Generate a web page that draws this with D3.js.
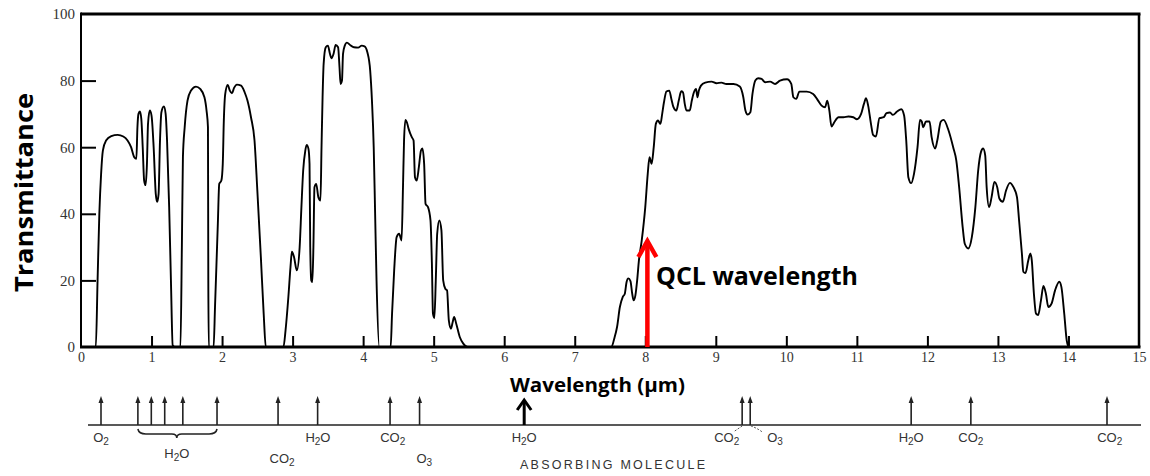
<!DOCTYPE html>
<html><head><meta charset="utf-8">
<script src="https://cdn.jsdelivr.net/npm/d3@7"></script>
<style>body{margin:0;background:#fff} svg{display:block}</style>
</head><body><svg id="c" width="1150" height="476"></svg>
<script>
// ---------- DATA ----------
const wavelength = [
0.2,0.21,0.235,0.26,0.285,0.31,0.355,0.43,0.52,0.6,0.66,0.71,0.755,0.785,0.8,0.815,0.835,0.855,0.875,0.895,0.915,0.935,0.95,0.975,1.0,1.03,1.06,1.08,1.1,1.12,1.14,1.175,1.2,1.22,1.25,1.275,1.3,1.33,
1.41,1.43,1.445,1.47,1.51,1.56,1.63,1.69,1.75,1.78,1.8,1.805,1.812,
1.88,1.9,1.94,1.96,1.99,2.01,2.025,2.045,2.08,2.11,2.14,2.17,2.21,2.27,2.32,2.36,2.41,2.46,2.5,2.55,2.59,2.62,
2.87,2.9,2.94,2.97,2.99,3.02,3.06,3.1,3.125,3.15,3.18,3.2,3.225,3.24,3.25,3.265,3.28,3.295,3.31,3.335,3.365,3.395,3.41,3.425,3.44,3.47,3.5,3.53,3.55,3.58,3.61,3.645,3.665,3.68,3.7,3.715,3.74,3.77,3.82,3.87,3.93,3.98,4.02,4.06,4.1,4.125,4.15,4.17,4.19,4.23,
4.39,4.41,4.44,4.475,4.51,4.545,4.565,4.58,4.6,4.62,4.645,4.69,4.715,4.735,4.76,4.79,4.82,4.84,4.865,4.885,4.92,4.955,4.975,4.99,5.01,5.03,5.05,5.08,5.11,5.135,5.165,5.19,5.215,5.245,5.27,5.29,5.32,5.37,5.42,5.48,
7.52,7.56,7.6,7.64,7.68,7.71,7.735,7.76,7.79,7.815,7.835,7.86,7.885,7.91,7.95,8.0,8.035,8.06,8.09,8.12,8.15,8.18,8.215,8.24,8.265,8.3,8.34,8.37,8.4,8.44,8.475,8.51,8.535,8.56,8.585,8.63,8.66,8.69,8.72,8.74,8.76,8.79,8.85,8.94,9.01,9.08,9.15,9.25,9.34,9.39,9.42,9.45,9.49,9.52,9.56,9.6,9.65,9.7,9.77,9.84,9.91,10.01,10.07,10.1,10.14,10.185,10.29,10.38,10.45,10.5,10.55,10.58,10.61,10.64,10.68,10.74,10.81,10.88,10.95,11.0,11.06,11.1,11.13,11.16,11.2,11.23,11.27,11.32,11.38,11.42,11.47,11.51,11.57,11.63,11.67,11.7,11.73,11.77,11.81,11.86,11.895,11.92,11.94,11.98,12.03,12.06,12.11,12.14,12.19,12.23,12.3,12.37,12.41,12.45,12.5,12.53,12.58,12.63,12.68,12.72,12.76,12.79,12.82,12.84,12.875,12.91,12.95,12.99,13.02,13.07,13.115,13.17,13.22,13.27,13.3,13.34,13.36,13.39,13.43,13.46,13.48,13.51,13.54,13.57,13.61,13.645,13.68,13.715,13.76,13.81,13.87,13.9,13.94,13.975,14.0
];
const transmittance = [
0,0,20,40,52,59,62,63.3,63.7,63.2,62,60,57,56.5,66,70,70.7,68.5,60,50,48.6,55,67,71,69.5,60,46,43.6,46,62,70.5,72.2,70,62,42,20,0.5,0,
0,30,57,66,74,77,78.2,77.5,75,71,66,20,0,
0,12,37,49,50,55,68,76,78.7,77,76.2,77.8,78.8,78.5,76.5,74,69,62,47,27,10,0,
0,5,15,24,28.6,27,23,30,42,53,59,60.7,59.5,55,30,20,19.5,30,48,49,45,44,60,75,85,90,90.5,88,86.7,88,90.7,90,84,79,80,88,90.5,91.4,90.6,90,89.9,90.5,90.3,88.5,83,74,60,40,20,0,
0,10,23,33,34,32,48,62,68.2,67.5,65.5,63,62,51,50,54,59,59.6,55,43,42,38,25,10,8.7,20,34,38,35,20,17.5,17,8,5.5,7.5,9,7,3,1,0,
0,2.5,6,12,15,16,19.5,20.6,19.8,16,14,15.5,20,26,32,42,52,57,55,60,67,68,67,70,73.5,76.7,77,74.5,72,71,74,76.8,76.5,73,71,71,74,76.5,77.5,75,77,78.5,79.4,79.7,79.2,79.4,79,79,78.2,75,71,69.8,70.5,76,80,80.7,80.5,79.5,79.7,79,80,80.4,79,75,74.5,76.7,76.7,76,74,72.5,72,74,71,66.2,67.5,69,69,69.2,69,68.4,70,73,74.7,72.5,67,63.7,63.2,68.7,69,70.2,70.4,69.7,70.7,71.4,69.5,62,51,49.2,52,60,68.2,67.7,66,67.7,67.7,63,59.6,62,67.7,68.2,65,59.6,56,48,36,31,29.6,33,42,53,58.6,59.6,57.5,48,42,45,49.6,48,44.6,43.6,47,49.3,48,45,38,28,22.6,22.2,26,28.1,26,16,10,9.6,14,18.3,16,12,13,17,19.6,18,10,2,0
];
const xTickValues = [0,1,2,3,4,5,6,7,8,9,10,11,12,13,14,15];
const yTickValues = [0,20,40,60,80,100];
const qclWavelength = 8.03;

// absorbing-molecule strip (positions read on the strip's own scale)
const bandPos = [0,0.55,0.75,0.95,1.22,1.73,2.64,3.23,4.31,4.75,6.31,9.56,9.68,12.08,12.97,15.0];
const boldBand = 6.31;
const labelText = ["O2","H2O","CO2","H2O","CO2","O3","H2O","CO2","O3","H2O","CO2","CO2"];
const labelPos  = [0,1.13,2.70,3.235,4.35,4.82,6.31,9.33,10.05,12.08,12.97,15.04];
const labelRow  = [0,1,2,0,0,2,0,0,0,0,0,0];
const braceRange = [0.55,1.73];

// ---------- DRAW ----------
const svg = d3.select("#c");
svg.append("rect").attr("width",1150).attr("height",476).attr("fill","#fff");

const x = d3.scaleLinear().domain([0,15]).range([81,1139]);
const y = d3.scaleLinear().domain([0,100]).range([347,14]);

const tickFont = "'Liberation Serif', serif";

// y axis
const ya = svg.append("g").attr("transform","translate(81,0)")
  .call(d3.axisLeft(y).tickValues(yTickValues).tickSizeInner(-15).tickSizeOuter(0).tickPadding(6));
ya.select(".domain").remove();
ya.selectAll(".tick line").attr("stroke","#000").attr("stroke-width",2)
  .attr("display",d=>d===0||d===100?"none":null);
ya.selectAll(".tick text").attr("font-family",tickFont).attr("font-size",15).attr("fill","#333");

// x axis
const xa = svg.append("g").attr("transform","translate(0,347)")
  .call(d3.axisBottom(x).tickValues(xTickValues).tickSizeInner(-11).tickSizeOuter(0).tickPadding(5));
xa.select(".domain").remove();
xa.selectAll(".tick line").attr("stroke","#000").attr("stroke-width",2)
  .attr("display",d=>d===0||d===15?"none":null);
xa.selectAll(".tick text").attr("font-family",tickFont).attr("font-size",14).attr("fill","#333");

// curve
const pts = wavelength.map((w,i)=>[w,transmittance[i]]);
const line = d3.line().x(d=>x(d[0])).y(d=>y(d[1])).curve(d3.curveMonotoneX);
svg.append("path").datum(pts).attr("d",line).attr("fill","none")
  .attr("stroke","#000").attr("stroke-width",1.9).attr("stroke-linejoin","round");

// frame
const fr = svg.append("g").attr("stroke","#000").attr("fill","none");
fr.append("line").attr("x1",x(0)).attr("x2",x(15)+1.5).attr("y1",y(100)).attr("y2",y(100)).attr("stroke-width",3);
fr.append("line").attr("x1",x(15)).attr("x2",x(15)).attr("y1",y(100)).attr("y2",y(0)).attr("stroke-width",2.5);
fr.append("line").attr("x1",x(0)).attr("x2",x(0)).attr("y1",y(100)-1.5).attr("y2",y(0)).attr("stroke-width",2);
fr.append("line").attr("x1",x(0)-1).attr("x2",x(15)+1.5).attr("y1",y(0)).attr("y2",y(0)).attr("stroke-width",3);

// QCL arrow
const qx = x(qclWavelength);
svg.append("line").attr("x1",qx).attr("x2",qx).attr("y1",y(0)).attr("y2",242)
  .attr("stroke","#ff0000").attr("stroke-width",4.5);
svg.append("path").attr("d",`M${qx-9},257 L${qx},241 L${qx+9},257`)
  .attr("fill","none").attr("stroke","#ff0000").attr("stroke-width",4.5).attr("stroke-linejoin","miter");

const boldFont = "'Open Sans', 'DejaVu Sans', sans-serif";
svg.append("text").attr("x",656).attr("y",285).text("QCL wavelength")
  .attr("font-family",boldFont).attr("font-weight",700).attr("font-size",25)
  .attr("textLength",202).attr("lengthAdjust","spacingAndGlyphs").attr("fill","#000");

svg.append("text").attr("transform","translate(33,292) rotate(-90)").text("Transmittance")
  .attr("font-family",boldFont).attr("font-weight",700).attr("font-size",25)
  .attr("textLength",199).attr("lengthAdjust","spacingAndGlyphs").attr("fill","#000");

svg.append("text").attr("x",510).attr("y",392).text("Wavelength (µm)")
  .attr("font-family",boldFont).attr("font-weight",700).attr("font-size",20)
  .attr("textLength",175).attr("lengthAdjust","spacingAndGlyphs").attr("fill","#000");

// absorbing-molecule strip
const s = d3.scaleLinear().domain([0,15]).range([101,1107]);
const stripY = 425, arrowTop = 396;
const strip = svg.append("g");
strip.append("line").attr("x1",88).attr("x2",1141).attr("y1",stripY).attr("y2",stripY)
  .attr("stroke","#222").attr("stroke-width",1.6);
bandPos.forEach(p=>{
  const px = s(p);
  if (p===boldBand) {
    strip.append("line").attr("x1",px).attr("x2",px).attr("y1",stripY).attr("y2",402)
      .attr("stroke","#000").attr("stroke-width",3);
    strip.append("path").attr("d",`M${px-7},410 L${px},400 L${px+7},410`)
      .attr("fill","none").attr("stroke","#000").attr("stroke-width",3);
  } else {
    strip.append("line").attr("x1",px).attr("x2",px).attr("y1",stripY).attr("y2",arrowTop+4)
      .attr("stroke","#222").attr("stroke-width",1.6);
    strip.append("path").attr("d",`M${px-2.5},${arrowTop+7} L${px},${arrowTop} L${px+2.5},${arrowTop+7} Z`)
      .attr("fill","#222");
  }
});
// brace under H2O group
{
  const a = s(braceRange[0]), b = s(braceRange[1]), m = s(labelPos[1]);
  strip.append("path")
    .attr("d",`M${a},429 Q${a+1},434 ${a+8},434 L${m-5},434 Q${m},434 ${m},438 Q${m},434 ${m+5},434 L${b-8},434 Q${b-1},434 ${b},429`)
    .attr("fill","none").attr("stroke","#222").attr("stroke-width",1.6);
}
// leaders for CO2 / O3 near 9.6
strip.append("path").attr("d",`M${s(9.45)},431 L${s(9.56)},426`).attr("stroke","#555").attr("stroke-width",1).attr("stroke-dasharray","2,1.5");
strip.append("path").attr("d",`M${s(9.69)},426 Q${s(9.78)},428 ${s(9.86)},432`).attr("fill","none").attr("stroke","#555").attr("stroke-width",1).attr("stroke-dasharray","2,1.5");

const rowY = [442, 458, 463];
const molFont = "'Liberation Sans', Arial, sans-serif";
labelText.forEach((t,i)=>{
  const tx = strip.append("text").attr("x",s(labelPos[i])).attr("y",rowY[labelRow[i]])
    .attr("text-anchor","middle").attr("font-family",molFont).attr("font-size",13).attr("fill","#333");
  let sub = false;
  for (const ch of t) {
    const isDigit = /[0-9]/.test(ch);
    const ts = tx.append("tspan").text(ch);
    if (isDigit && !sub) { ts.attr("dy",3).attr("font-size",10); sub = true; }
    else if (!isDigit && sub) { ts.attr("dy",-3); sub = false; }
  }
});
strip.append("text").attr("x",520).attr("y",469).text("ABSORBING MOLECULE")
  .attr("font-family",molFont).attr("font-size",12.5).attr("fill","#333")
  .attr("textLength",185).attr("lengthAdjust","spacing");
</script>
</body></html>
